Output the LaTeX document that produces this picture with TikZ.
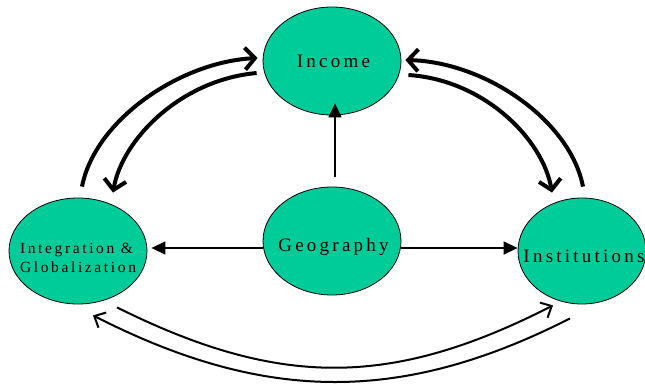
\documentclass[tikz,border=0pt]{standalone}
\usepackage{fontspec}
\usetikzlibrary{arrows.meta,shapes.geometric}
\newfontfamily\lblfont[LetterSpace=17]{Liberation Serif}
\definecolor{nodegreen}{HTML}{00CC99}
\newcommand{\zbox}[2][0pt]{\makebox[0pt]{\raisebox{#1}[0pt][0pt]{#2}}}
\tikzset{
  blob/.style={ellipse, draw=black, line width=0.8pt, fill=nodegreen, inner sep=0pt, text=black},
  straightarr/.style={line width=1.4pt, -{Triangle[length=14pt,width=13pt]}},
  bigarr/.style={line width=4pt, -{Straight Barb[length=10pt,width=22pt,line width=4pt]}},
  lowarr/.style={line width=2pt, -{Straight Barb[length=9pt,width=17pt,line width=2pt]}},
}
\begin{document}
\begin{tikzpicture}[x=1pt,y=-1pt]
\useasboundingbox (0,0) rectangle (645,383);
\node[blob, minimum width=138pt, minimum height=108pt, font=\lblfont\fontsize{19}{21}\selectfont] (inc) at (332,61) {\zbox[-6pt]{\hspace*{3pt}Income}};
\node[blob, minimum width=138pt, minimum height=108pt, font=\lblfont\fontsize{19}{21}\selectfont] (geo) at (332,241) {\zbox[-10pt]{\hspace*{3pt}Geography}};
\node[blob, minimum width=138pt, minimum height=106pt, font=\lblfont\fontsize{15.5}{19}\selectfont] (integ) at (78,251) {\zbox[-12pt]{\begin{tabular}{@{}l@{}}Integration \&\\Globalization\end{tabular}}};
\node[blob, minimum width=128pt, minimum height=106pt, font=\lblfont\fontsize{19}{21}\selectfont] (inst) at (582,251) {\zbox[-11pt]{\hspace*{4pt}Institutions}};

% straight arrows from Geography
\draw[straightarr] ([xshift=3pt,yshift=10pt]geo.north) -- ([xshift=3pt,yshift=12pt]inc.south);
\draw[straightarr] ([yshift=-7pt]geo.west) -- ([xshift=4pt,yshift=3pt]integ.east);
\draw[straightarr] ([yshift=-7pt]geo.east) -- ([yshift=3pt]inst.west);

% top-left pair
\draw[bigarr] ([xshift=4pt,yshift=11pt]integ.north) .. controls (95,120) and (180,62) .. ([xshift=-5pt,yshift=3pt]inc.west);
\draw[bigarr] ([xshift=-6pt,yshift=-12pt]inc.west) .. controls (180,80) and (122,140) .. ([xshift=35pt,yshift=5pt]integ.north);

% top-right pair
\draw[bigarr] ([xshift=1pt,yshift=11pt]inst.north) .. controls (570,120) and (485,62) .. ([xshift=4pt,yshift=1pt]inc.east);
\draw[bigarr] ([xshift=7pt,yshift=-14pt]inc.east) .. controls (485,80) and (543,140) .. ([xshift=-30pt,yshift=5pt]inst.north);

% bottom pair
\draw[lowarr] ([xshift=39pt,yshift=-3pt]integ.south) .. controls (279,388) and (391,388) .. ([xshift=-29pt,yshift=-1pt]inst.south);
\draw[lowarr] ([xshift=-12pt,yshift=-14pt]inst.south) .. controls (400,405) and (263,402) .. ([xshift=15pt,yshift=-11pt]integ.south);
\end{tikzpicture}
\end{document}
